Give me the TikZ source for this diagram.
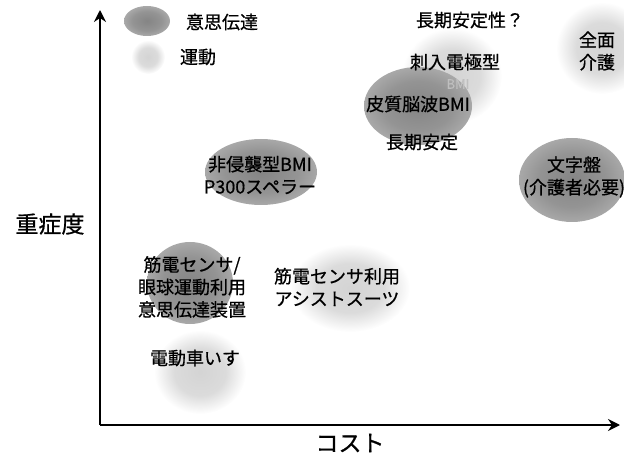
\documentclass[tikz,border=0pt]{standalone}
\usepackage{fontspec}
\setmainfont{Noto Sans CJK JP}[FakeBold=0.7]
\usetikzlibrary{arrows.meta}
\definecolor{dkA}{gray}{0.52}
\definecolor{dkB}{gray}{0.58}
\definecolor{dkC}{gray}{0.66}
\definecolor{ltA}{gray}{0.83}
\definecolor{ltB}{gray}{0.86}
\pgfdeclareradialshading{darkblob}{\pgfpoint{0bp}{0bp}}{color(0bp)=(dkA); color(16bp)=(dkB); color(25bp)=(dkC); color(50bp)=(dkC)}
\pgfdeclareradialshading{lightblob}{\pgfpoint{0bp}{0bp}}{color(0bp)=(ltA); color(14bp)=(ltB); color(25bp)=(white); color(50bp)=(white)}
\begin{document}
\begin{tikzpicture}[x=1pt,y=-1pt,
  lbl/.style={font=\fontsize{18}{22.5}\selectfont, align=center, inner sep=0pt},
  axlbl/.style={font=\fontsize{23}{26}\selectfont, inner sep=0pt},
  dark/.style={shading=darkblob},
  light/.style={shading=lightblob},
  axis/.style={line width=2.2pt, -{Stealth[length=12pt,width=12pt,inset=4pt]}}]
\useasboundingbox (0,0) rectangle (624,457);
% blobs
\shade[dark] (147,21) ellipse (23 and 15);
\shade[light] (148,57) ellipse (17 and 17);
\shade[light] (452,76) ellipse (50 and 48);
\shade[dark] (418,106) ellipse (54 and 39);
\shade[light] (602,48) ellipse (46 and 46);
\shade[dark] (261,172) ellipse (56 and 33);
\shade[dark] (572,180) ellipse (53 and 42);
\shade[dark] (190,283) ellipse (43 and 41);
\shade[light] (350,288) ellipse (60 and 44);
\shade[light] (200,372) ellipse (46 and 42);
% axes
\coordinate (o) at (100,425);
\coordinate (ytop) at (100,10);
\coordinate (xend) at (620,425);
\draw[axis] (o) -- (ytop);
\draw[axis] (o) -- (xend);
% texts
\node[lbl] (l1) at (222,22) {意思伝達};
\node[lbl] (l2) at (198,57) {運動};
\node[lbl] (q) at (470,20) {長期安定性？};
\node[lbl] (shi) at (455,62) {刺入電極型};
\node[lbl, text=gray!50, font=\fontsize{13}{16}\selectfont] (bmi) at (458,84) {BMI};
\node[lbl] (ecog) at (418,104) {皮質脳波BMI};
\node[lbl] (stab) at (422,142) {長期安定};
\node[lbl] (zen) at (597,51) {全面\\介護};
\node[lbl] (p300) at (260,175) {非侵襲型BMI\\P300スペラー};
\node[lbl] (moji) at (574,177) {文字盤\\(介護者必要)};
\node[axlbl] (sev) at (50,224) {重症度};
\node[lbl] (emg) at (192,287) {筋電センサ/\\眼球運動利用\\意思伝達装置};
\node[lbl] (suit) at (337,287) {筋電センサ利用\\アシストスーツ};
\node[lbl] (wc) at (195,358) {電動車いす};
\node[axlbl] (cost) at (350,443) {コスト};
\end{tikzpicture}
\end{document}
